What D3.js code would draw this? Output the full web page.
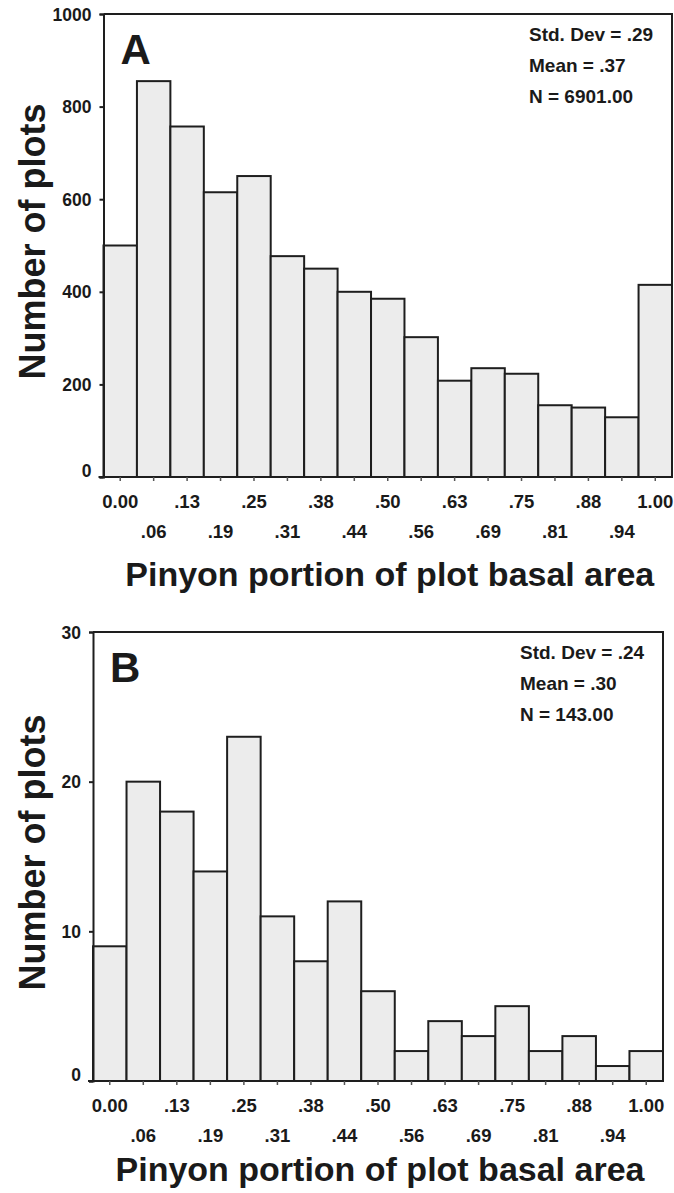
<!DOCTYPE html>
<html>
<head>
<meta charset="utf-8">
<script src="https://cdn.jsdelivr.net/npm/d3@7"></script>
<style>
  body { margin: 0; background: #fff; }
  text { font-family: "Liberation Sans", Arial, sans-serif; font-weight: bold; fill: #1a1a1a; }
</style>
</head>
<body>
<svg id="chart"></svg>
<script>
// bin labels (bin centres on the x axis)
const binLabels = ['0.00', '.06', '.13', '.19', '.25', '.31', '.38', '.44', '.50',
    '.56', '.63', '.69', '.75', '.81', '.88', '.94', '1.00']

// number of plots per bin, panel A and panel B
const countsA = [500, 855, 757, 615, 650, 477, 450, 400, 385, 302, 208, 235, 223, 155, 150, 129, 415]
const countsB = [9, 20, 18, 14, 23, 11, 8, 12, 6, 2, 4, 3, 5, 2, 3, 1, 2]

const yTicksA = [0, 200, 400, 600, 800, 1000]
const yTicksB = [0, 10, 20, 30]

const statsA = ['Std. Dev = .29', 'Mean = .37', 'N = 6901.00']
const statsB = ['Std. Dev = .24', 'Mean = .30', 'N = 143.00']

const xTitle = 'Pinyon portion of plot basal area'
const yTitle = 'Number of plots'

const svg = d3.select('#chart')
    .attr('width', 674)
    .attr('height', 1193)

const ink = '#1e1e1e'

const drawPanel = (p) => {
    const g = svg.append('g')

    const x = d3.scaleBand()
        .domain(binLabels)
        .range([p.left, p.right])
        .padding(0)

    const y = d3.scaleLinear()
        .domain([0, d3.max(p.ticks)])
        .range([p.bottom, p.top])

    // bars
    g.selectAll('rect.bar')
        .data(p.counts)
        .join('rect')
        .attr('class', 'bar')
        .attr('x', (d, i) => x(binLabels[i]))
        .attr('y', d => y(d))
        .attr('width', x.bandwidth())
        .attr('height', d => y(0) - y(d))
        .attr('fill', '#ececec')
        .attr('stroke', ink)
        .attr('stroke-width', 2)

    // frame: top and right
    g.append('path')
        .attr('d', `M${p.left},${p.top}H${p.right}V${p.bottom}`)
        .attr('fill', 'none')
        .attr('stroke', ink)
        .attr('stroke-width', 2)

    // y axis
    const yAxis = g.append('g')
        .attr('transform', `translate(${p.left},0)`)
        .call(d3.axisLeft(y).tickValues(p.ticks).tickSize(4).tickPadding(8).tickFormat(d3.format('d')))
    yAxis.select('.domain').attr('stroke', ink).attr('stroke-width', 2)
    yAxis.selectAll('.tick line').attr('stroke', ink).attr('stroke-width', 2)
    yAxis.selectAll('.tick text')
        .attr('font-size', 17.5)
        .attr('font-family', null)
        .attr('dy', d => d === 0 ? '-0.05em' : '0.35em')
        .attr('fill', ink)

    // x axis
    const xAxis = g.append('g')
        .attr('transform', `translate(0,${p.bottom})`)
        .call(d3.axisBottom(x).tickSize(4).tickSizeOuter(0).tickFormat(''))
    xAxis.select('.domain')
        .attr('d', `M${p.left - 5},0H${p.right}`)
        .attr('stroke', ink).attr('stroke-width', 2)
    xAxis.selectAll('.tick line').attr('stroke', '#555').attr('stroke-width', 1.5)

    g.selectAll('text.xlab')
        .data(binLabels)
        .join('text')
        .attr('class', 'xlab')
        .attr('x', d => x(d) + x.bandwidth() / 2)
        .attr('y', (d, i) => p.bottom + (i % 2 === 0 ? 25 : 55))
        .attr('dy', '0.35em')
        .attr('text-anchor', 'middle')
        .attr('font-size', 18.5)
        .text(d => d)

    // axis titles
    g.append('text')
        .attr('x', (p.left + p.right) / 2 + 2)
        .attr('y', p.bottom + p.titleGap)
        .attr('dy', '0.35em')
        .attr('text-anchor', 'middle')
        .attr('font-size', 34)
        .text(xTitle)

    g.append('text')
        .attr('transform', `translate(45,${(p.top + p.bottom) / 2 - 4}) rotate(-90)`)
        .attr('text-anchor', 'middle')
        .attr('font-size', 36)
        .text(yTitle)

    // panel letter
    g.append('text')
        .attr('x', p.left + 17)
        .attr('y', p.top + 50)
        .attr('font-size', 42)
        .text(p.letter)

    // summary stats
    g.selectAll('text.stat')
        .data(p.stats)
        .join('text')
        .attr('class', 'stat')
        .attr('x', p.right - 143)
        .attr('y', (d, i) => p.top + 20 + i * 31)
        .attr('dy', '0.35em')
        .attr('font-size', 19)
        .text(d => d)
}

drawPanel({letter: 'A', counts: countsA, ticks: yTicksA, stats: statsA,
    left: 103.5, right: 672, top: 14, bottom: 477, titleGap: 97})
drawPanel({letter: 'B', counts: countsB, ticks: yTicksB, stats: statsB,
    left: 93, right: 663, top: 632, bottom: 1081, titleGap: 88})
</script>
</body>
</html>
